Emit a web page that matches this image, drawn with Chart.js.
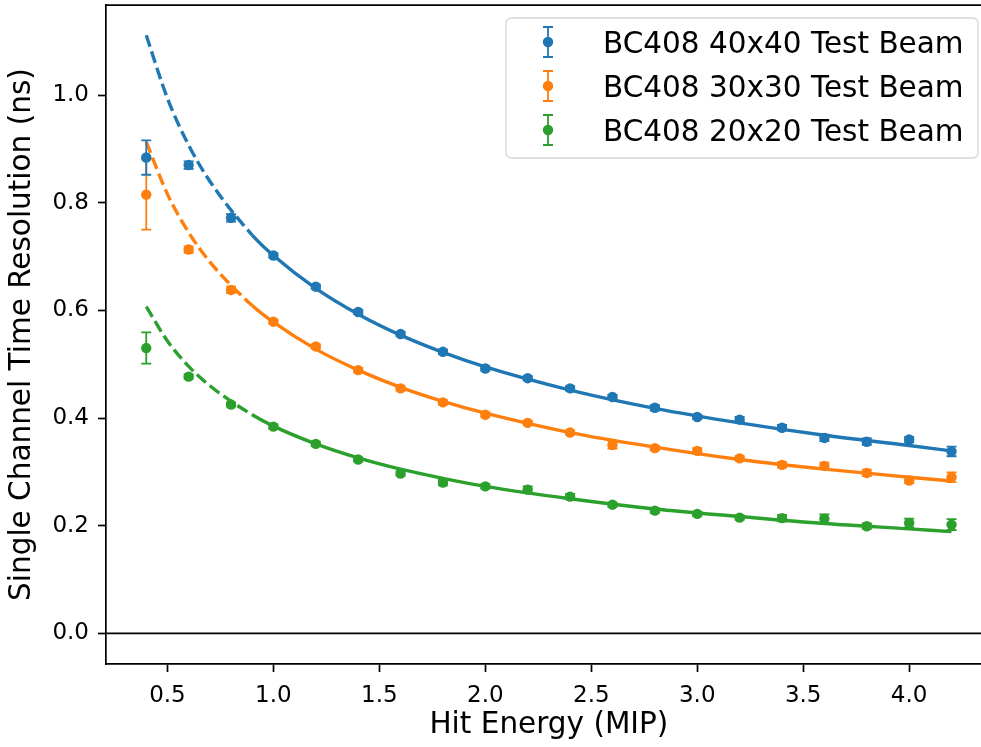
<!DOCTYPE html>
<html>
<head>
<meta charset="utf-8">
<script src="https://cdn.jsdelivr.net/npm/chart.js@4.4.0/dist/chart.umd.min.js"></script>
<style>
html, body { margin: 0; padding: 0; background: #fff; overflow: hidden; }
canvas { display: block; }
</style>
</head>
<body>
<canvas id="resChart" width="997" height="747"></canvas>
<script>
// measured points (hit energy in MIP, resolution in ns)
var energies = [0.4, 0.6, 0.8, 1.0, 1.2, 1.4, 1.6, 1.8, 2.0, 2.2, 2.4, 2.6, 2.8, 3.0, 3.2, 3.4, 3.6, 3.8, 4.0, 4.2];

var res40 = [0.884, 0.870, 0.772, 0.702, 0.644, 0.597, 0.556, 0.523, 0.492, 0.474, 0.455, 0.439, 0.419, 0.402, 0.397, 0.382, 0.363, 0.356, 0.360, 0.338];
var err40 = [0.032, 0.007, 0.007, 0.004, 0.004, 0.004, 0.004, 0.004, 0.004, 0.004, 0.004, 0.004, 0.005, 0.004, 0.005, 0.005, 0.006, 0.006, 0.005, 0.009];

var res30 = [0.815, 0.713, 0.638, 0.579, 0.533, 0.489, 0.455, 0.429, 0.406, 0.391, 0.373, 0.350, 0.344, 0.339, 0.325, 0.313, 0.311, 0.298, 0.284, 0.290];
var err30 = [0.065, 0.006, 0.006, 0.004, 0.004, 0.004, 0.004, 0.004, 0.004, 0.004, 0.004, 0.007, 0.004, 0.005, 0.004, 0.005, 0.006, 0.006, 0.005, 0.009];

var res20 = [0.530, 0.477, 0.425, 0.384, 0.352, 0.323, 0.297, 0.280, 0.273, 0.267, 0.254, 0.239, 0.228, 0.222, 0.215, 0.214, 0.213, 0.199, 0.205, 0.202];
var err20 = [0.029, 0.004, 0.004, 0.004, 0.004, 0.004, 0.004, 0.005, 0.004, 0.006, 0.005, 0.004, 0.004, 0.004, 0.004, 0.006, 0.008, 0.005, 0.008, 0.010];

// fit curves (dashed below the fit range)
var fitEnergies = [0.4, 0.5, 0.6, 0.7, 0.9, 1.0, 1.2, 1.4, 1.6, 1.8, 2.0, 2.4, 2.8, 3.2, 3.6, 4.0, 4.2];
var fit40 = [1.111, 0.994, 0.907, 0.840, 0.740, 0.702, 0.641, 0.593, 0.554, 0.522, 0.495, 0.452, 0.418, 0.391, 0.368, 0.349, 0.339];
var fit30 = [0.913, 0.816, 0.745, 0.690, 0.609, 0.578, 0.528, 0.489, 0.457, 0.431, 0.409, 0.373, 0.346, 0.323, 0.305, 0.290, 0.283];
var fit20 = [0.607, 0.543, 0.496, 0.460, 0.406, 0.385, 0.352, 0.326, 0.305, 0.288, 0.273, 0.250, 0.231, 0.217, 0.204, 0.194, 0.189];
var fitStart = 0.9;

var seriesLabels = ['BC408 40x40 Test Beam', 'BC408 30x30 Test Beam', 'BC408 20x20 Test Beam'];
var seriesColors = ['#1f77b4', '#ff7f0e', '#2ca02c'];

var xTicks = [0.5, 1.0, 1.5, 2.0, 2.5, 3.0, 3.5, 4.0];
var yTicks = [0.0, 0.2, 0.4, 0.6, 0.8, 1.0];

function pts(xs, ys) {
	return xs.map(function(x, i){ return {x: x, y: ys[i]}; });
}

function pointSet(i, ys, errs) {
	return {
		type: 'scatter',
		label: seriesLabels[i],
		data: pts(energies, ys),
		errors: errs,
		backgroundColor: seriesColors[i],
		borderColor: seriesColors[i],
		pointRadius: 5.2,
		pointBorderWidth: 0,
		pointHoverRadius: 5.2,
		order: 0
	};
}

function fitSet(i, ys) {
	return {
		type: 'line',
		label: 'fit ' + seriesLabels[i],
		data: pts(fitEnergies, ys),
		borderColor: seriesColors[i],
		borderWidth: 3.4,
		pointRadius: 0,
		fill: false,
		cubicInterpolationMode: 'monotone',
		segment: {
			borderDash: function(ctx){ return ctx.p1.parsed.x <= fitStart ? [12, 5] : undefined; }
		},
		order: 1
	};
}

var errorBars = {
	id: 'errorBars',
	beforeDatasetDraw: function(chart, args) {
		var ds = chart.data.datasets[args.index];
		if (!ds.errors) return;
		var ctx = chart.ctx, ys = chart.scales.y;
		ctx.save();
		ctx.strokeStyle = ds.borderColor;
		ctx.lineWidth = 1.8;
		args.meta.data.forEach(function(el, j){
			var v = ds.data[j].y, e = ds.errors[j];
			var top = ys.getPixelForValue(v + e), bot = ys.getPixelForValue(v - e);
			ctx.beginPath();
			ctx.moveTo(el.x, top); ctx.lineTo(el.x, bot);
			ctx.moveTo(el.x - 5, top); ctx.lineTo(el.x + 5, top);
			ctx.moveTo(el.x - 5, bot); ctx.lineTo(el.x + 5, bot);
			ctx.stroke();
		});
		ctx.restore();
	}
};

var frame = {
	id: 'frame',
	beforeDatasetsDraw: function(chart) {
		var ctx = chart.ctx, a = chart.chartArea;
		var y0 = chart.scales.y.getPixelForValue(0);
		ctx.save();
		ctx.strokeStyle = '#000';
		ctx.lineWidth = 1.7;
		ctx.beginPath();
		ctx.moveTo(a.left, y0); ctx.lineTo(a.right, y0);
		ctx.moveTo(a.left, a.top); ctx.lineTo(a.right, a.top);
		ctx.stroke();
		ctx.restore();
	}
};

var legendBox = {
	id: 'legendBox',
	afterDraw: function(chart) {
		var ctx = chart.ctx;
		var bx = 506, by = 18, bw = 472, bh = 140, r = 5;
		ctx.save();
		ctx.beginPath();
		ctx.roundRect(bx, by, bw, bh, r);
		ctx.fillStyle = 'rgba(255,255,255,0.8)';
		ctx.fill();
		ctx.strokeStyle = '#d6d6d6';
		ctx.lineWidth = 1.3;
		ctx.stroke();
		ctx.font = '29.5px "DejaVu Sans"';
		ctx.textBaseline = 'alphabetic';
		for (var i = 0; i < seriesLabels.length; i++) {
			var cy = 42 + i * 44, mx = 548;
			ctx.strokeStyle = seriesColors[i];
			ctx.lineWidth = 1.8;
			ctx.beginPath();
			ctx.moveTo(mx, cy - 15); ctx.lineTo(mx, cy + 15);
			ctx.moveTo(mx - 5, cy - 15); ctx.lineTo(mx + 5, cy - 15);
			ctx.moveTo(mx - 5, cy + 15); ctx.lineTo(mx + 5, cy + 15);
			ctx.stroke();
			ctx.beginPath();
			ctx.arc(mx, cy, 5.2, 0, Math.PI * 2);
			ctx.fillStyle = seriesColors[i];
			ctx.fill();
			ctx.fillStyle = '#000';
			ctx.fillText(seriesLabels[i], 603, cy + 11);
		}
		ctx.restore();
	}
};

Chart.defaults.font.family = '"DejaVu Sans", sans-serif';
Chart.defaults.color = '#000';

var config = {
	data: {
		datasets: [
			pointSet(0, res40, err40),
			pointSet(1, res30, err30),
			pointSet(2, res20, err20),
			fitSet(0, fit40),
			fitSet(1, fit30),
			fitSet(2, fit20)
		]
	},
	options: {
		responsive: false,
		animation: false,
		events: [],
		layout: { padding: { top: 3, right: 0, left: 0, bottom: 0 } },
		plugins: {
			legend: { display: false },
			tooltip: { enabled: false }
		},
		scales: {
			x: {
				type: 'linear',
				min: 0.21,
				max: 4.39,
				afterBuildTicks: function(s){ s.ticks = xTicks.map(function(v){ return {value: v}; }); },
				afterFit: function(s){ s.height = 83; s.paddingLeft = 0; s.paddingRight = 0; },
				ticks: { font: { size: 23 }, padding: 10, maxRotation: 0, callback: function(v){ return v.toFixed(1); } },
				grid: { drawOnChartArea: false, drawTicks: true, tickLength: 8, tickWidth: 1.7, tickColor: '#000' },
				border: { display: true, color: '#000', width: 1.7 },
				title: { display: true, text: 'Hit Energy (MIP)', font: { size: 29.5 }, padding: { top: 0, bottom: 4 } }
			},
			y: {
				type: 'linear',
				min: -0.057,
				max: 1.167,
				afterBuildTicks: function(s){ s.ticks = yTicks.map(function(v){ return {value: v}; }); },
				afterFit: function(s){ s.width = 106; s.paddingTop = 0; s.paddingBottom = 0; },
				ticks: { font: { size: 23 }, padding: 9, callback: function(v){ return v.toFixed(1); } },
				grid: { drawOnChartArea: false, drawTicks: true, tickLength: 8, tickWidth: 1.7, tickColor: '#000' },
				border: { display: true, color: '#000', width: 1.7 },
				title: { display: true, text: 'Single Channel Time Resolution (ns)', font: { size: 29.5 }, padding: { top: 5, bottom: 0 } }
			}
		}
	},
	plugins: [errorBars, frame, legendBox]
};

var ctxRes = document.getElementById('resChart').getContext('2d');
window.resChart = new Chart(ctxRes, config);
</script>
</body>
</html>
